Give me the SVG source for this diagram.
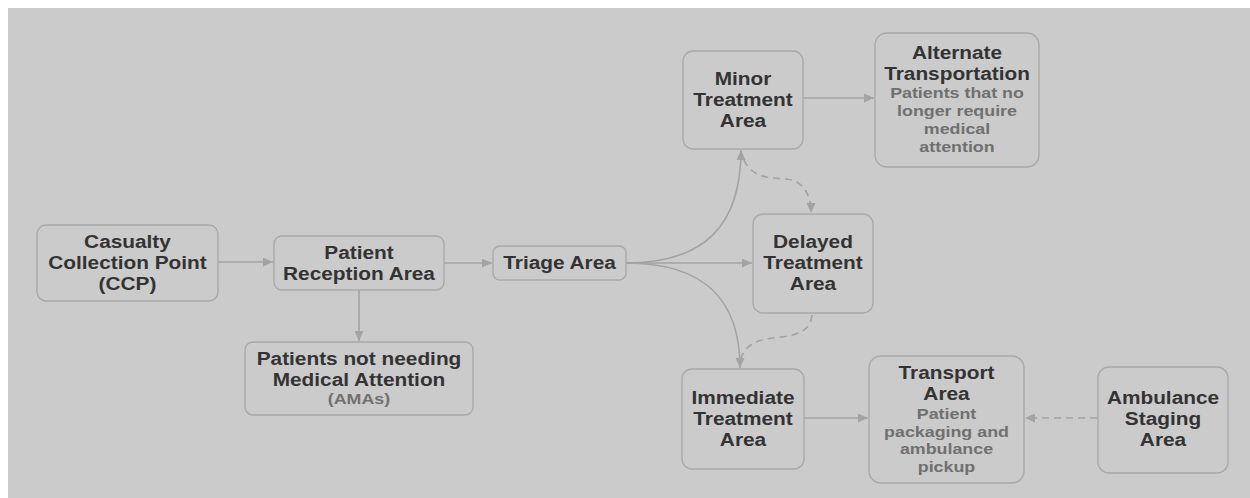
<svg xmlns="http://www.w3.org/2000/svg" width="1250" height="498" viewBox="0 0 1250 498">
<style>
.box{fill:#cbcbcb;stroke:#a9a9a9;stroke-width:1.4}
.t{font-family:"Liberation Sans",Arial,sans-serif;font-weight:bold;font-size:17.5px;fill:#333;text-anchor:middle}
.s{font-size:15px;fill:#707070}
.c{fill:none;stroke:#a3a3a3;stroke-width:1.6}
.d{stroke-dasharray:7 5}
</style>
<defs>
<marker id="ah" markerUnits="userSpaceOnUse" markerWidth="10" markerHeight="9" refX="10" refY="4.5" orient="auto">
<path d="M0,0 L10,4.5 L0,9 z" fill="#a3a3a3"/>
</marker>
</defs>
<rect x="0" y="0" width="1250" height="498" fill="#ffffff"/>
<rect x="8" y="8" width="1242" height="490" fill="#cbcbcb"/>

<g id="connectors">
<path class="c" d="M218,262 L273,262" marker-end="url(#ah)"/>
<path class="c" d="M444,263 L492,263" marker-end="url(#ah)"/>
<path class="c" d="M359,290 L359,341" marker-end="url(#ah)"/>
<path class="c" d="M626,263 L752,263" marker-end="url(#ah)"/>
<path class="c" d="M626,263 C705,263 741,225 741,150" marker-end="url(#ah)"/>
<path class="c" d="M626,263 C705,263 740,300 740,368" marker-end="url(#ah)"/>
<path class="c" d="M803,98 L874,98" marker-end="url(#ah)"/>
<path class="c" d="M804,418 L868,418" marker-end="url(#ah)"/>
<path class="c d" d="M1097,418 L1025,418" marker-end="url(#ah)"/>
<path class="c d" d="M744,160 C752,178 770,178 786,179 C801,180 811,192 811,213" marker-end="url(#ah)"/>
<path class="c d" d="M812,315 C810,338 782,336 766,339 C749,342 742,352 740,362"/>
</g>

<g id="ccp">
<rect class="box" x="37" y="225" width="181" height="76" rx="9"/>
<g class="t" transform="translate(127.5 0) scale(1.19 1)">
<text x="0" y="248">Casualty</text>
<text x="0" y="269">Collection Point</text>
<text x="0" y="290">(CCP)</text>
</g>
</g>

<g id="reception">
<rect class="box" x="274" y="236" width="170" height="54" rx="8"/>
<g class="t" transform="translate(359 0) scale(1.19 1)">
<text x="0" y="259">Patient</text>
<text x="0" y="280">Reception Area</text>
</g>
</g>

<g id="ama">
<rect class="box" x="245" y="342" width="228" height="73" rx="8"/>
<g class="t" transform="translate(359 0) scale(1.19 1)">
<text x="0" y="365">Patients not needing</text>
<text x="0" y="386">Medical Attention</text>
<text class="s" x="0" y="404">(AMAs)</text>
</g>
</g>

<g id="triage">
<rect class="box" x="493" y="246" width="133" height="34" rx="7"/>
<g class="t" transform="translate(559.5 0) scale(1.19 1)">
<text x="0" y="269">Triage Area</text>
</g>
</g>

<g id="minor">
<rect class="box" x="683" y="51" width="120" height="98" rx="10"/>
<g class="t" transform="translate(743 0) scale(1.19 1)">
<text x="0" y="85">Minor</text>
<text x="0" y="106">Treatment</text>
<text x="0" y="127">Area</text>
</g>
</g>

<g id="delayed">
<rect class="box" x="753" y="214" width="120" height="99" rx="10"/>
<g class="t" transform="translate(813 0) scale(1.19 1)">
<text x="0" y="248">Delayed</text>
<text x="0" y="269">Treatment</text>
<text x="0" y="290">Area</text>
</g>
</g>

<g id="alternate">
<rect class="box" x="875" y="33" width="164" height="134" rx="12"/>
<g class="t" transform="translate(957 0) scale(1.19 1)">
<text x="0" y="59">Alternate</text>
<text x="0" y="80">Transportation</text>
<text class="s" x="0" y="98.5">Patients that no</text>
<text class="s" x="0" y="116.2">longer require</text>
<text class="s" x="0" y="134">medical</text>
<text class="s" x="0" y="151.7">attention</text>
</g>
</g>

<g id="immediate">
<rect class="box" x="682" y="369" width="122" height="100" rx="10"/>
<g class="t" transform="translate(743 0) scale(1.19 1)">
<text x="0" y="404">Immediate</text>
<text x="0" y="425">Treatment</text>
<text x="0" y="446">Area</text>
</g>
</g>

<g id="transport">
<rect class="box" x="869" y="356" width="155" height="127" rx="12"/>
<g class="t" transform="translate(946.5 0) scale(1.19 1)">
<text x="0" y="379">Transport</text>
<text x="0" y="400">Area</text>
<text class="s" x="0" y="419">Patient</text>
<text class="s" x="0" y="436.7">packaging and</text>
<text class="s" x="0" y="454.4">ambulance</text>
<text class="s" x="0" y="472">pickup</text>
</g>
</g>

<g id="ambulance">
<rect class="box" x="1098" y="367" width="130" height="106" rx="11"/>
<g class="t" transform="translate(1163 0) scale(1.19 1)">
<text x="0" y="404">Ambulance</text>
<text x="0" y="425">Staging</text>
<text x="0" y="446">Area</text>
</g>
</g>
</svg>
